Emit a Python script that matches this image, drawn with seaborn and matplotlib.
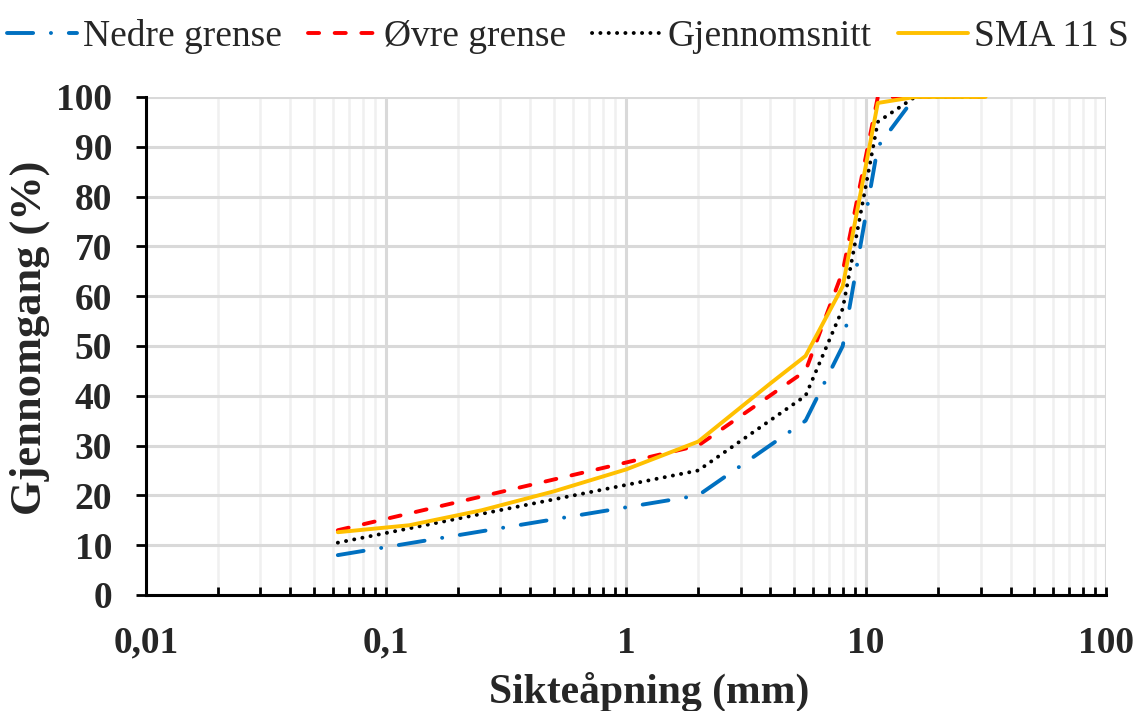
import numpy as np
import pandas as pd
import matplotlib
matplotlib.use('Agg')
import matplotlib.pyplot as plt
from matplotlib.ticker import FixedLocator, LogLocator, NullFormatter
import seaborn as sns

# Siktekurver (sikt i mm, gjennomgang i %)
sikt_grense = [0.063, 2, 5.6, 8, 11.2, 16, 22.4, 31.5]
nedre = [8, 20, 35, 50, 90, 100, 100, 100]
ovre = [13, 30, 45, 65, 100, 100, 100, 100]
snitt = [10.5, 25, 40, 57.5, 95, 100, 100, 100]

sikt_sma = [0.063, 0.125, 0.25, 0.5, 1, 2, 4, 5.6, 8, 11.2, 16, 22.4, 31.5]
sma = [12.6, 14, 17, 20.8, 25.2, 30.8, 42.5, 48, 62, 98.8, 100, 100, 100]

x_ticks = [0.01, 0.1, 1, 10, 100]
x_labels = ['0,01', '0,1', '1', '10', '100']
y_ticks = list(range(0, 101, 10))

sns.set_style('white')
plt.rcParams['font.family'] = ['Liberation Serif', 'DejaVu Serif']
plt.rcParams['lines.scale_dashes'] = False

fig = plt.figure(figsize=(11.36, 7.11), dpi=100)
ax = fig.add_axes([0.1285, 0.1632, 0.9736 - 0.1285, 0.8636 - 0.1632])

lw = 2.8
sns.lineplot(x=sikt_grense, y=nedre, ax=ax, color='#0070C0', lw=lw,
             linestyle=(0, (18.8, 12.8, 0.1, 12.8)), dash_capstyle='round',
             label='Nedre grense', sort=False, estimator=None)
sns.lineplot(x=sikt_grense, y=ovre, ax=ax, color='#FF0000', lw=lw,
             linestyle=(0, (8, 11.2)), dash_capstyle='round',
             label='Øvre grense', sort=False, estimator=None)
sns.lineplot(x=sikt_grense, y=snitt, ax=ax, color='black', lw=lw,
             linestyle=(0, (0.1, 5.9)), dash_capstyle='round',
             label='Gjennomsnitt', sort=False, estimator=None)
sns.lineplot(x=sikt_sma, y=sma, ax=ax, color='#FFC000', lw=lw,
             label='SMA 11 S', sort=False, estimator=None)

ax.set_xscale('log')
ax.set_xlim(0.01, 100)
ax.set_ylim(0, 100)
ax.xaxis.set_major_locator(FixedLocator(x_ticks))
ax.set_xticklabels(x_labels)
ax.xaxis.set_minor_locator(LogLocator(base=10, subs=np.arange(2, 10)))
ax.xaxis.set_minor_formatter(NullFormatter())
ax.set_yticks(y_ticks)

ax.grid(which='major', axis='both', color='#D9D9D9', lw=2.2, zorder=0)
ax.grid(which='minor', axis='x', color='#F0F0F0', lw=1.8, zorder=0)
ax.set_axisbelow(True)

for s in ['top', 'right']:
    ax.spines[s].set_visible(False)
for s in ['left', 'bottom']:
    ax.spines[s].set_color('black')
    ax.spines[s].set_linewidth(2.2)

ax.tick_params(axis='x', which='both', direction='in', length=6, width=2,
               color='black', bottom=True, pad=22)
ax.tick_params(axis='y', which='major', direction='out', length=7.5, width=2,
               color='black', left=True, pad=17)
for lab in ax.get_xticklabels() + ax.get_yticklabels():
    lab.set_fontsize(27)
    lab.set_fontweight('bold')

ax.set_xlabel('Sikteåpning (mm)', fontsize=30, fontweight='bold', labelpad=6)
ax.xaxis.set_label_coords(0.524, -0.155)
ax.set_ylabel('Gjennomgang (%)', fontsize=32, fontweight='bold')
ax.yaxis.set_label_coords(-0.1, 0.517)

ax.legend(loc='upper center', bbox_to_anchor=(0.5, 1.0), bbox_transform=fig.transFigure,
          ncol=4, frameon=False, fontsize=27, handlelength=1.87, handletextpad=0.15,
          columnspacing=0.7, borderaxespad=0.1)

fig.savefig('out.png', dpi=100)
